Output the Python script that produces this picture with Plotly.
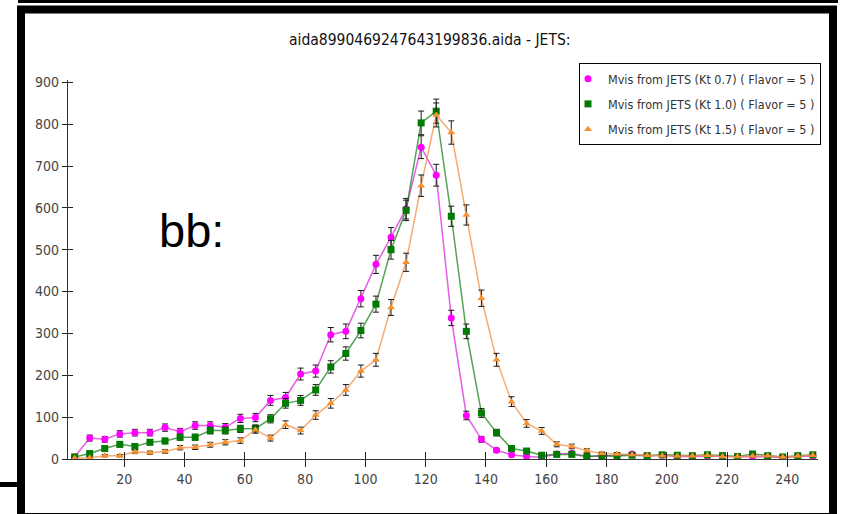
import plotly.graph_objects as go

# ---------------- data ----------------
mass_bins = [3.5, 8.5, 13.5, 18.5, 23.5, 28.5, 33.5, 38.5, 43.5, 48.5,
             53.5, 58.5, 63.5, 68.5, 73.5, 78.5, 83.5, 88.5, 93.5, 98.5,
             103.5, 108.5, 113.5, 118.5, 123.5, 128.5, 133.5, 138.5, 143.5, 148.5,
             153.5, 158.5, 163.5, 168.5, 173.5, 178.5, 183.5, 188.5, 193.5, 198.5,
             203.5, 208.5, 213.5, 218.5, 223.5, 228.5, 233.5, 238.5, 243.5, 248.5]

kt07 = [5, 50, 47, 60, 63, 63, 75, 65, 80, 80,
        76, 97, 99, 140, 147, 203, 210, 297, 305, 383,
        465, 530, 598, 745, 678, 337, 104, 47, 21, 10,
        6, 4, 12, 14, 6, 8, 8, 12, 7, 9,
        6, 6, 7, 7, 5, 6, 5, 4, 6, 7]
kt07_err = [2.2, 7.1, 6.9, 7.7, 7.9, 7.9, 8.7, 8.1, 8.9, 8.9,
            8.7, 9.8, 9.9, 11.8, 12.1, 14.2, 14.5, 17.2, 17.5, 19.6,
            21.6, 23.0, 24.5, 27.3, 26.0, 18.4, 10.2, 6.9, 4.6, 3.2,
            2.4, 2.0, 3.5, 3.7, 2.4, 2.8, 2.8, 3.5, 2.6, 3.0,
            2.4, 2.4, 2.6, 2.6, 2.2, 2.4, 2.2, 2.0, 2.4, 2.6]

kt10 = [5, 13, 25, 35, 30, 40, 43, 52, 52, 68,
        68, 72, 73, 96, 133, 140, 165, 220, 252, 307,
        370, 500, 594, 803, 831, 580, 305, 110, 63, 25,
        19, 9, 11, 11, 6, 8, 7, 9, 8, 10,
        9, 8, 10, 8, 6, 12, 8, 5, 8, 10]
kt10_err = [2.2, 3.6, 5.0, 5.9, 5.5, 6.3, 6.6, 7.2, 7.2, 8.2,
            8.2, 8.5, 8.5, 9.8, 11.5, 11.8, 12.8, 14.8, 15.9, 17.5,
            19.2, 22.4, 24.4, 28.3, 28.8, 24.1, 17.5, 10.5, 7.9, 5.0,
            4.4, 3.0, 3.3, 3.3, 2.4, 2.8, 2.6, 3.0, 2.8, 3.2,
            3.0, 2.8, 3.2, 2.8, 2.4, 3.5, 2.8, 2.2, 2.8, 3.2]

kt15 = [2, 3, 8, 8, 17, 15, 18, 27, 28, 34,
        40, 44, 70, 50, 82, 68, 105, 133, 165, 210,
        237, 362, 470, 653, 822, 780, 583, 384, 237, 137,
        85, 67, 35, 30, 20, 13, 12, 10, 9, 8,
        7, 7, 9, 6, 6, 7, 8, 5, 7, 9]
kt15_err = [1.4, 1.7, 2.8, 2.8, 4.1, 3.9, 4.2, 5.2, 5.3, 5.8,
            6.3, 6.6, 8.4, 7.1, 9.1, 8.2, 10.2, 11.5, 12.8, 14.5,
            15.4, 19.0, 21.7, 25.6, 28.7, 27.9, 24.1, 19.6, 15.4, 11.7,
            9.2, 8.2, 5.9, 5.5, 4.5, 3.6, 3.5, 3.2, 3.0, 2.8,
            2.6, 2.6, 3.0, 2.4, 2.4, 2.6, 2.8, 2.2, 2.6, 3.0]

series_names = ["Mvis from JETS (Kt 0.7) ( Flavor = 5 )",
                "Mvis from JETS (Kt 1.0) ( Flavor = 5 )",
                "Mvis from JETS (Kt 1.5) ( Flavor = 5 )"]
x_ticks = [20, 40, 60, 80, 100, 120, 140, 160, 180, 200, 220, 240]
y_ticks = [0, 100, 200, 300, 400, 500, 600, 700, 800, 900]

title_text = "aida8990469247643199836.aida - JETS:"
panel_label = "bb:"

# ---------------- layout geometry ----------------
W, H = 842, 514
ML, MR, MT, MB = 68, 24, 80, 55
PW, PH = W - ML - MR, H - MT - MB


def px(xp):
    return (xp - ML) / PW


def py(yp):
    return (H - MB - yp) / PH


COND = "DejaVu Sans Condensed, Liberation Sans Narrow, DejaVu Sans, sans-serif"

fig = go.Figure()

styles = [
    dict(symbol="circle", mcolor="#ff00ff", lcolor="rgba(220,40,220,0.75)"),
    dict(symbol="square", mcolor="#007a00", lcolor="rgba(30,130,30,0.75)"),
    dict(symbol="triangle-up", mcolor="#f7902e", lcolor="rgba(240,150,80,0.8)"),
]
datasets = [(kt07, kt07_err), (kt10, kt10_err), (kt15, kt15_err)]

for i, ((vals, errs), st, name) in enumerate(zip(datasets, styles, series_names)):
    fig.add_trace(go.Scatter(
        x=mass_bins, y=vals, mode="lines", showlegend=False,
        legendgroup=f"g{i}", hoverinfo="skip",
        line=dict(color=st["lcolor"], width=1.5),
    ))
    fig.add_trace(go.Scatter(
        x=mass_bins, y=vals, name=name, mode="markers",
        legendgroup=f"g{i}",
        marker=dict(symbol=st["symbol"], color=st["mcolor"], size=7,
                    line=dict(width=0)),
        error_y=dict(type="data", array=errs, visible=True,
                     color="#1a1a1a", thickness=1, width=3),
    ))

# invisible trace for overlay axes (inward tick halves)
fig.add_trace(go.Scatter(x=[], y=[], xaxis="x2", yaxis="y2",
                         showlegend=False, hoverinfo="skip"))

xr = [1.3, 250.2]
yr = [0, 905.5]

fig.update_layout(
    width=W, height=H,
    margin=dict(l=ML, r=MR, t=MT, b=MB),
    paper_bgcolor="white", plot_bgcolor="white",
    showlegend=True,
    legend=dict(
        x=px(821), y=py(63), xanchor="right", yanchor="top",
        bgcolor="white", bordercolor="black", borderwidth=1,
        font=dict(family=COND, size=12.5, color="#333333"),
        traceorder="grouped", tracegroupgap=6,
        itemwidth=30, indentation=-12,
    ),
    xaxis=dict(
        range=xr, tickmode="array", tickvals=x_ticks,
        showgrid=False, zeroline=False,
        showline=True, linecolor="#333333", linewidth=1.3,
        ticks="outside", ticklen=7, tickcolor="#222222", tickwidth=1.3,
        tickfont=dict(family=COND, size=14, color="#444444"),
    ),
    yaxis=dict(
        range=yr, tickmode="array", tickvals=y_ticks,
        showgrid=False, zeroline=False,
        showline=True, linecolor="#333333", linewidth=1.3,
        ticks="outside", ticklen=5, tickcolor="#222222", tickwidth=1.3,
        tickfont=dict(family=COND, size=14, color="#444444"),
    ),
    xaxis2=dict(
        range=xr, overlaying="x", anchor="y", side="bottom",
        tickmode="array", tickvals=x_ticks, showticklabels=False,
        showgrid=False, zeroline=False, showline=False,
        ticks="inside", ticklen=7, tickcolor="#222222", tickwidth=1.3,
    ),
    yaxis2=dict(
        range=yr, overlaying="y", anchor="x", side="left",
        tickmode="array", tickvals=y_ticks, showticklabels=False,
        showgrid=False, zeroline=False, showline=False,
        ticks="inside", ticklen=5, tickcolor="#222222", tickwidth=1.3,
    ),
)

fig.add_annotation(
    text=title_text, xref="paper", yref="paper",
    x=px(429), y=py(40), xanchor="center", yanchor="middle",
    showarrow=False, font=dict(family=COND, size=15.5, color="#111111"),
)
fig.add_annotation(
    text=panel_label, xref="paper", yref="paper",
    x=px(157), y=py(231), xanchor="left", yanchor="middle",
    showarrow=False, font=dict(family="Liberation Sans, Arial, sans-serif",
                               size=47, color="black"),
)

# screenshot frame decorations
fig.add_shape(type="rect", xref="paper", yref="paper",
              x0=px(21), x1=px(833), y0=py(9.5), y1=py(517),
              line=dict(color="black", width=8), fillcolor="rgba(0,0,0,0)")
fig.add_shape(type="line", xref="paper", yref="paper",
              x0=px(18), x1=px(838), y0=py(1.5), y1=py(1.5),
              line=dict(color="black", width=3))
fig.add_shape(type="line", xref="paper", yref="paper",
              x0=px(0), x1=px(22), y0=py(484.5), y1=py(484.5),
              line=dict(color="black", width=5))

fig.write_html("out.html",
               config={"displayModeBar": False},
               post_script="document.body.style.margin='0';"
                           "document.body.style.overflow='hidden';")
